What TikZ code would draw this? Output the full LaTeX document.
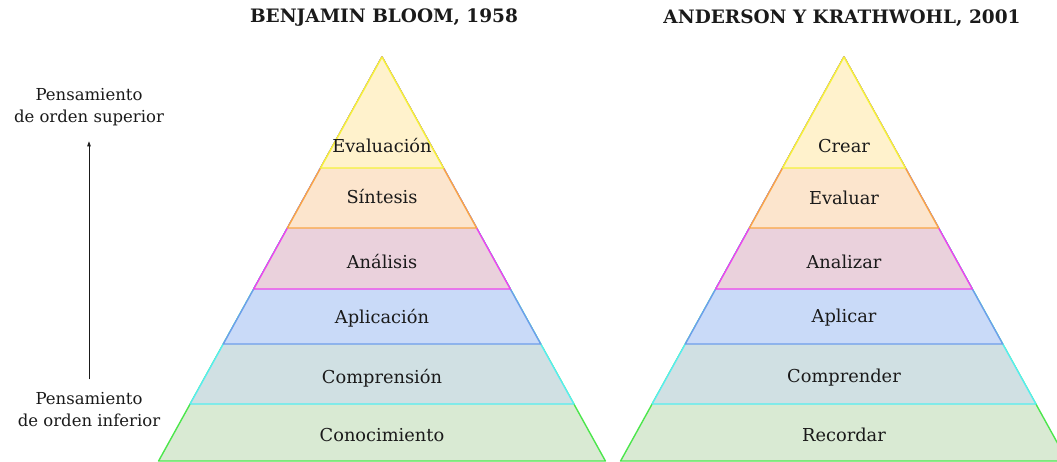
\documentclass[tikz,border=0pt]{standalone}
\usepackage{fontspec}
\setmainfont{DejaVu Serif}
\usetikzlibrary{positioning, arrows.meta}

\definecolor{yellowfill}{HTML}{FFF2CC}
\definecolor{yellowline}{HTML}{F5F23A}
\definecolor{orangefill}{HTML}{FCE5CD}
\definecolor{orangeline}{HTML}{F9A645}
\definecolor{pinkfill}{HTML}{EAD1DC}
\definecolor{pinkline}{HTML}{EE44EE}
\definecolor{bluefill}{HTML}{C9DAF8}
\definecolor{blueline}{HTML}{6D9EEB}
\definecolor{cyanfill}{HTML}{D0E0E3}
\definecolor{cyanline}{HTML}{55EEF0}
\definecolor{greenfill}{HTML}{D9EAD3}
\definecolor{greenline}{HTML}{4CE64C}
\definecolor{ink}{HTML}{1A1A1A}

\begin{document}
\begin{tikzpicture}
% Style
[
    x=1pt, y=-1pt, text=ink,
    layer/.style={fill=#1fill, draw=#1line, line width=1.4pt, line join=round},
    level/.style={font=\fontsize{17.8}{20}\selectfont},
    title/.style={font=\fontsize{18.5}{22}\selectfont\bfseries},
    side/.style={align=center, font=\fontsize{16.5}{22}\selectfont},
]
\useasboundingbox (0,0) rectangle (1057,461);
\clip (0,0) rectangle (1057,461);

%=================================== Start ===================================
{
    % pyramids, biggest triangle first
    \foreach \x in {382,844} {
        \foreach \c/\y [evaluate={\w=(\y-57)*0.553}] in
            {green/461, cyan/404, blue/344, pink/289, orange/228, yellow/168} {
            \filldraw[layer=\c] (\x,57) -- (\x+\w,\y) -- (\x-\w,\y) -- cycle;
        }
    }

    \foreach \t/\y [count=\i] in {Evaluación/146, Síntesis/197, Análisis/262,
        Aplicación/318, Comprensión/378, Conocimiento/435} {
        \node[level] (bloom-\i) at (382,\y) {\t};
    }
    \foreach \t/\y [count=\i] in {Crear/146, Evaluar/198, Analizar/262,
        Aplicar/318, Comprender/378, Recordar/435} {
        \node[level] (ak-\i) at (844,\y) {\t};
    }

    \node[title] (title-bloom) at (384,18) {BENJAMIN BLOOM, 1958};
    \node[title] (title-ak) at (842,18) {ANDERSON Y KRATHWOHL, 2001};

    \node[side] (think-sup) at (89,107) {Pensamiento\\de orden superior};
    \node[side] (think-inf) at (89,410) {Pensamiento\\de orden inferior};
    \draw[-{Triangle[length=5pt, width=3.5pt]}, ink, line width=.8pt]
        ([yshift=10pt]think-inf.north) -- ([yshift=-12pt]think-sup.south);
}
%==================================== END ====================================

\end{tikzpicture}
\end{document}
